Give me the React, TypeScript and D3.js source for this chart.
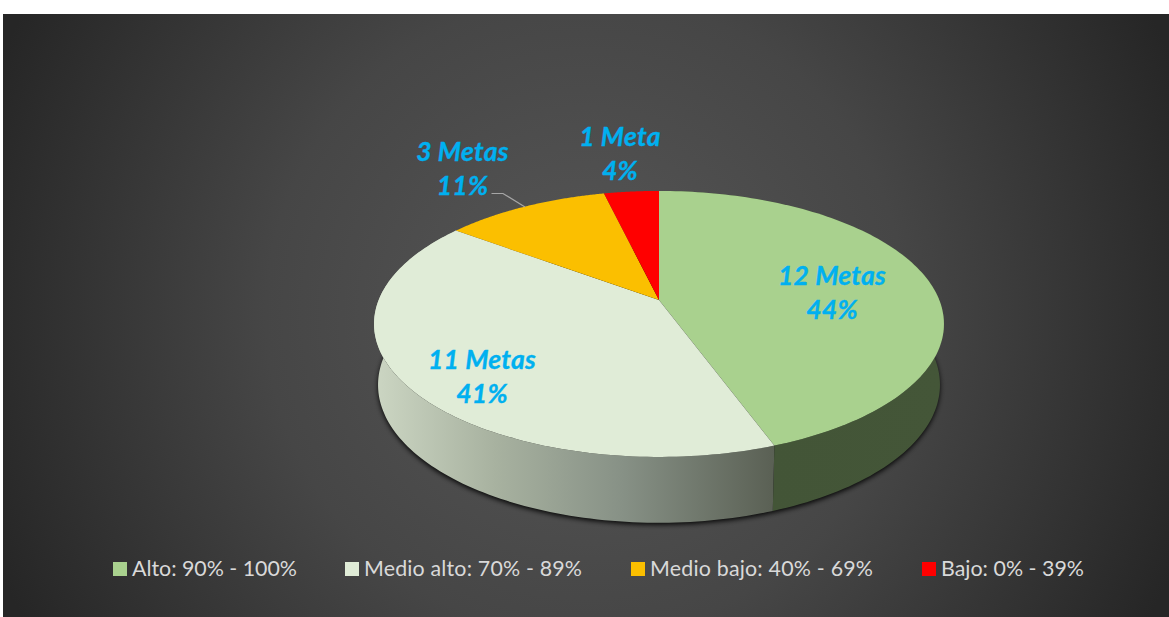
import React from "react";
import * as d3 from "d3";

const categories = ["Alto: 90% - 100%", "Medio alto: 70% - 89%", "Medio bajo: 40% - 69%", "Bajo: 0% - 39%"];
const metas = [12, 11, 3, 1];
const metaLabels = ["12 Metas", "11 Metas", "3 Metas", "1 Meta"];
const percentLabels = ["44%", "41%", "11%", "4%"];
const colors = ["#a9d18e", "#e0ecd7", "#fbbf00", "#ff0000"];

const W = 1169, H = 617;
const cx = 659, cy = 300, A = 280.3, B = 128.7, P = -0.18;
const DROP = 60, SCALE_X = 0.986, SCALE_Y = 1.037;
const FONT = "Lato, Carlito, Calibri, sans-serif";

const labelPos = [
  { x: 832, y: 285, dy: 34 },
  { x: 482, y: 369, dy: 34 },
  { x: 462.5, y: 161, dy: 34 },
  { x: 620, y: 146, dy: 34 },
];
const legendX = [113, 345, 631, 922];
const legendTextLen = [165, 218, 223, 143];

function project(theta: number, bottom = false): [number, number] {
  const u = Math.sin(theta), v = -Math.cos(theta);
  const w = 1 + P * v;
  const x = (A * u) / w, y = (B * v) / w;
  return bottom ? [cx + x * SCALE_X, cy + DROP + y * SCALE_Y] : [cx + x, cy + y];
}

const arcPts = (a0: number, a1: number, bottom = false) =>
  d3.range(0, 121).map((i) => project(a0 + ((a1 - a0) * i) / 120, bottom));

const line = d3.line();
const pie = d3.pie<number>().sort(null)(metas);

export default function App() {
  const full = line(arcPts(0, Math.PI * 2, true))! + "Z";
  return (
    <svg width={W} height={H} viewBox={`0 0 ${W} ${H}`} style={{ position: "fixed", left: 0, top: 0, background: "#fff" }}>
      <defs>
        <radialGradient id="bg" gradientUnits="userSpaceOnUse" cx={586} cy={315} r={640}>
          <stop offset="0" stopColor="#575757" />
          <stop offset="0.5" stopColor="#464646" />
          <stop offset="1" stopColor="#262626" />
        </radialGradient>
        <linearGradient id="wall1" gradientUnits="userSpaceOnUse" x1={374} x2={774} y1={0} y2={0}>
          <stop offset="0" stopColor="#ccd6c3" />
          <stop offset="0.3" stopColor="#a8b2a0" />
          <stop offset="0.62" stopColor="#879186" />
          <stop offset="1" stopColor="#5a6054" />
        </linearGradient>
        <linearGradient id="wall0" gradientUnits="userSpaceOnUse" x1={771} x2={944} y1={0} y2={0}>
          <stop offset="0" stopColor="#435537" />
          <stop offset="1" stopColor="#445638" />
        </linearGradient>
        <filter id="shadow" x="-10%" y="-10%" width="120%" height="125%">
          <feGaussianBlur stdDeviation="2.5" />
        </filter>
      </defs>
      <rect x={3} y={14} width={W - 3} height={H - 14} fill="url(#bg)" />
      <path d={full} fill="#000" opacity={0.9} filter="url(#shadow)" transform="translate(0,2)" />
      {pie.slice(0, 2).map((s, i) => {
        const top = arcPts(s.startAngle, s.endAngle);
        const bot = arcPts(s.startAngle, s.endAngle, true).reverse();
        return <path key={i} d={line([...top, ...bot])! + "Z"} fill={`url(#wall${i})`} />;
      })}
      {pie.map((s, i) => (
        <path key={i} d={line([[cx, cy], ...arcPts(s.startAngle, s.endAngle)])! + "Z"} fill={colors[i]} />
      ))}
      <polyline points="491.5,193.5 503,193.5 525,207" fill="none" stroke="#a6a6a6" strokeWidth={1.2} />
      {metaLabels.map((m, i) => (
        <text key={i} textAnchor="middle" fontFamily={FONT} fontWeight={700} fontStyle="italic" fontSize={26.5} letterSpacing={0.25} fill="#00b0f0" stroke="#00b0f0" strokeWidth={0.35}>
          <tspan x={labelPos[i].x} y={labelPos[i].y}>{m}</tspan>
          <tspan x={labelPos[i].x} y={labelPos[i].y + labelPos[i].dy}>{percentLabels[i]}</tspan>
        </text>
      ))}
      {categories.map((c, i) => (
        <g key={i}>
          <rect x={legendX[i]} y={562} width={14} height={14} fill={colors[i]} />
          <text x={legendX[i] + 19} y={576} fontFamily={FONT} fontSize={21.4} fill="#d9d9d9" textLength={legendTextLen[i]} lengthAdjust="spacing">{c}</text>
        </g>
      ))}
    </svg>
  );
}
